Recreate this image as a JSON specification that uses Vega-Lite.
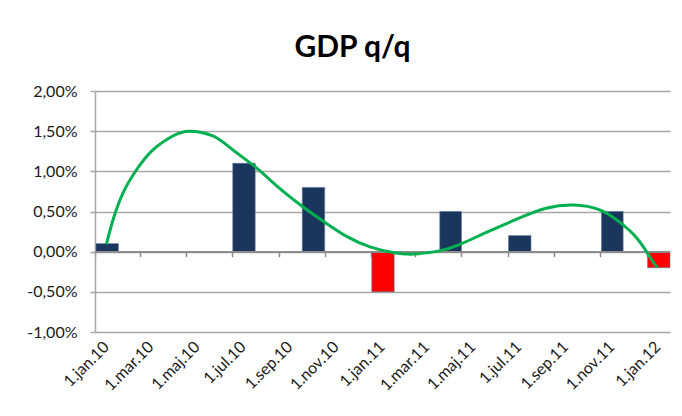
{
  "$schema": "https://vega.github.io/schema/vega-lite/v6.json",
  "width": 575,
  "height": 241,
  "autosize": {"type": "none"},
  "padding": {"left": 95, "top": 91, "right": 12, "bottom": 84},
  "background": "white",
  "config": {"view": {"stroke": null}, "font": "Lato"},
  "title": {"text": "GDP q/q", "font": "Lato", "fontSize": 30, "fontWeight": "bold", "color": "#000000", "anchor": "middle", "dx": -30, "offset": 20},
  "datasets": {
    "bars": [
      {"month": "2010-01-01", "value": 0.001},
      {"month": "2010-07-01", "value": 0.011},
      {"month": "2010-10-01", "value": 0.008},
      {"month": "2011-01-01", "value": -0.005},
      {"month": "2011-04-01", "value": 0.005},
      {"month": "2011-07-01", "value": 0.002},
      {"month": "2011-11-01", "value": 0.005},
      {"month": "2012-01-01", "value": -0.002}
    ],
    "trend": [
      {"date": "2010-01-16", "value": 0.0009},
      {"date": "2010-01-25", "value": 0.0040},
      {"date": "2010-02-07", "value": 0.0073},
      {"date": "2010-02-25", "value": 0.0102},
      {"date": "2010-03-19", "value": 0.0127},
      {"date": "2010-04-14", "value": 0.0144},
      {"date": "2010-05-06", "value": 0.0150},
      {"date": "2010-06-06", "value": 0.0144},
      {"date": "2010-07-02", "value": 0.0127},
      {"date": "2010-08-03", "value": 0.0104},
      {"date": "2010-09-02", "value": 0.0079},
      {"date": "2010-10-03", "value": 0.0056},
      {"date": "2010-10-30", "value": 0.0038},
      {"date": "2010-11-30", "value": 0.0019},
      {"date": "2010-12-31", "value": 0.0006},
      {"date": "2011-01-30", "value": -0.0001},
      {"date": "2011-02-27", "value": -0.0003},
      {"date": "2011-04-02", "value": 0.0001},
      {"date": "2011-04-29", "value": 0.0009},
      {"date": "2011-06-03", "value": 0.0024},
      {"date": "2011-07-17", "value": 0.0042},
      {"date": "2011-08-21", "value": 0.0054},
      {"date": "2011-09-26", "value": 0.0058},
      {"date": "2011-10-31", "value": 0.0052},
      {"date": "2011-11-26", "value": 0.0037},
      {"date": "2011-12-19", "value": 0.0017},
      {"date": "2012-01-05", "value": -0.0006},
      {"date": "2012-01-15", "value": -0.0020}
    ]
  },
  "resolve": {"axis": {"x": "independent"}},
  "layer": [
    {
      "data": {"name": "bars"},
      "mark": {"type": "bar", "stroke": "#5a7496", "strokeWidth": 0.6},
      "encoding": {
        "x": {
          "field": "month", "type": "temporal", "timeUnit": "utcyearmonth",
          "scale": {"type": "utc", "domain": [{"year": 2010, "month": 1, "date": 1, "utc": true}, {"year": 2012, "month": 2, "date": 1, "utc": true}]},
          "axis": {
            "orient": "bottom",
            "title": null, "domain": false, "ticks": false, "grid": false,
            "values": [
              {"year": 2010, "month": 1, "date": 1, "utc": true},
              {"year": 2010, "month": 3, "date": 1, "utc": true},
              {"year": 2010, "month": 5, "date": 1, "utc": true},
              {"year": 2010, "month": 7, "date": 1, "utc": true},
              {"year": 2010, "month": 9, "date": 1, "utc": true},
              {"year": 2010, "month": 11, "date": 1, "utc": true},
              {"year": 2011, "month": 1, "date": 1, "utc": true},
              {"year": 2011, "month": 3, "date": 1, "utc": true},
              {"year": 2011, "month": 5, "date": 1, "utc": true},
              {"year": 2011, "month": 7, "date": 1, "utc": true},
              {"year": 2011, "month": 9, "date": 1, "utc": true},
              {"year": 2011, "month": 11, "date": 1, "utc": true},
              {"year": 2012, "month": 1, "date": 1, "utc": true}
            ],
            "labelExpr": "'1.' + ['jan','feb','mar','apr','maj','jun','jul','aug','sep','okt','nov','dec'][utcmonth(datum.value)] + '.' + utcFormat(datum.value, '%y')",
            "labelAngle": -45, "labelAlign": "right", "labelBaseline": "middle",
            "labelOffset": 11, "labelPadding": 12, "labelFontSize": 16, "labelFont": "Lato",
            "labelColor": "#1a1a1a", "labelOverlap": false, "labelFlush": false
          }
        },
        "y": {
          "field": "value", "type": "quantitative",
          "scale": {"domain": [-0.01, 0.02], "nice": false},
          "axis": {
            "title": null,
            "values": [-0.01, -0.005, 0, 0.005, 0.01, 0.015, 0.02],
            "labelExpr": "replace(replace(format(datum.value, '.2%'), '.', ','), '\u2212', '-')",
            "grid": true, "gridColor": "#a6a6a6", "gridWidth": 1.5,
            "domain": true, "domainColor": "#a6a6a6", "domainWidth": 1.5,
            "ticks": true, "tickColor": "#a6a6a6", "tickSize": 5, "tickWidth": 1.5,
            "labelPadding": 13, "labelFontSize": 16, "labelFont": "Lato", "labelColor": "#1a1a1a"
          }
        },
        "color": {"condition": {"test": "datum.value < 0", "value": "#ff0000"}, "value": "#1b365d"}
      }
    },
    {
      "data": {"name": "bars"},
      "mark": {"type": "rule", "color": "#8c8c8c", "strokeWidth": 1.5},
      "encoding": {
        "y": {"datum": 0, "type": "quantitative"}
      }
    },
    {
      "data": {"name": "trend"},
      "mark": {"type": "line", "interpolate": "natural", "color": "#00b050", "strokeWidth": 3},
      "encoding": {
        "x": {
          "field": "date", "type": "temporal",
          "axis": {
            "orient": "bottom",
            "title": null, "labels": false, "grid": false, "domain": false,
            "ticks": true, "tickSize": 5, "tickColor": "#8c8c8c", "tickWidth": 1.5,
            "offset": -80.33,
            "values": [
              {"year": 2010, "month": 1, "date": 1, "utc": true},
              {"year": 2010, "month": 3, "date": 1, "utc": true},
              {"year": 2010, "month": 5, "date": 1, "utc": true},
              {"year": 2010, "month": 7, "date": 1, "utc": true},
              {"year": 2010, "month": 9, "date": 1, "utc": true},
              {"year": 2010, "month": 11, "date": 1, "utc": true},
              {"year": 2011, "month": 1, "date": 1, "utc": true},
              {"year": 2011, "month": 3, "date": 1, "utc": true},
              {"year": 2011, "month": 5, "date": 1, "utc": true},
              {"year": 2011, "month": 7, "date": 1, "utc": true},
              {"year": 2011, "month": 9, "date": 1, "utc": true},
              {"year": 2011, "month": 11, "date": 1, "utc": true},
              {"year": 2012, "month": 1, "date": 1, "utc": true}
            ]
          }
        },
        "y": {"field": "value", "type": "quantitative"}
      }
    }
  ]
}
